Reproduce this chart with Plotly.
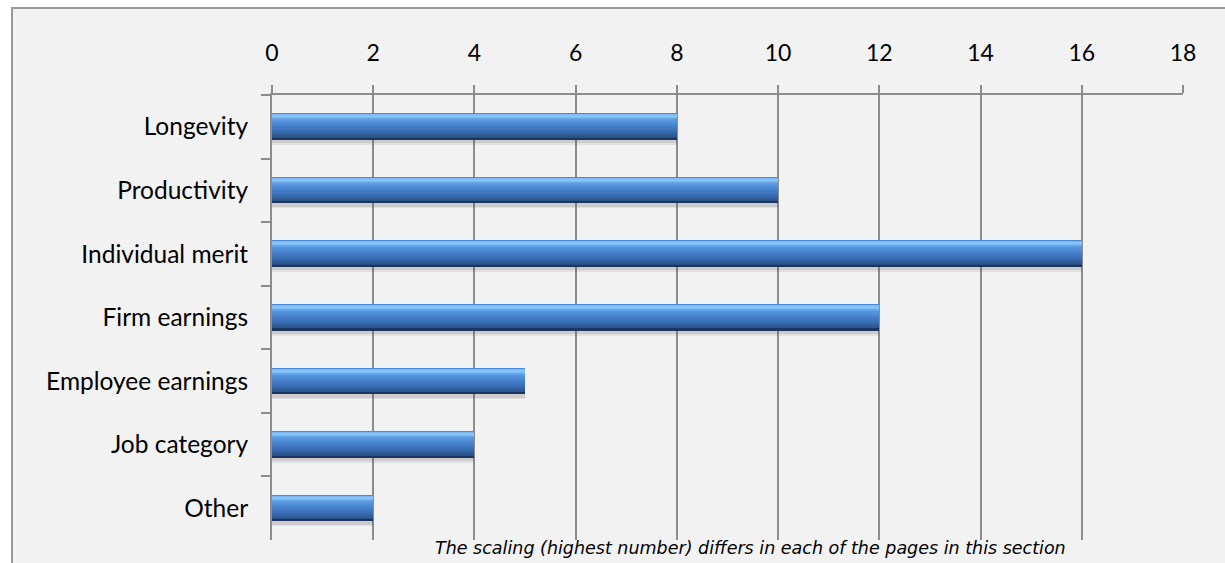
import plotly.graph_objects as go

# Survey answers: basis used for salary increases
categories = ["Longevity", "Productivity", "Individual merit", "Firm earnings",
              "Employee earnings", "Job category", "Other"]
counts = [8, 10, 16, 12, 5, 4, 2]
x_ticks = [0, 2, 4, 6, 8, 10, 12, 14, 16, 18]
footnote = "The scaling (highest number) differs in each of the pages in this section"

# Plot area geometry (pixels)
W, H = 1225, 563
L, R, T, B = 272, 1183, 95, 540
pitch = (B - T) / len(categories)
bar_px = 26

# Colour stops (row within the bar, colour) for the glossy vertical gradient
stops = [
    (0, (77, 138, 214)),
    (1, (125, 186, 245)),
    (3, (138, 198, 250)),
    (6, (93, 155, 227)),
    (12, (70, 130, 206)),
    (19, (55, 104, 172)),
    (24, (40, 78, 132)),
    (25, (26, 54, 96)),
]


def row_colour(r):
    for (r0, c0), (r1, c1) in zip(stops, stops[1:]):
        if r0 <= r <= r1:
            f = (r - r0) / (r1 - r0) if r1 > r0 else 0
            c = [round(a + (b - a) * f) for a, b in zip(c0, c1)]
            return "rgb({},{},{})".format(*c)
    return "rgb({},{},{})".format(*stops[-1][1])


fig = go.Figure()

# soft drop shadow under each bar
for dy, alpha in [(5, 0.10), (3.5, 0.14)]:
    fig.add_trace(go.Bar(
        y=categories, x=counts, orientation="h",
        width=bar_px / pitch,
        offset=(dy - bar_px / 2) / pitch,
        marker=dict(color=f"rgba(80,80,80,{alpha})", line=dict(width=0)),
        hoverinfo="skip", showlegend=False,
    ))

# one thin slice per pixel row, slightly overlapping to avoid seams
for r in range(bar_px):
    fig.add_trace(go.Bar(
        y=categories, x=counts, orientation="h",
        width=1.6 / pitch,
        offset=(r - bar_px / 2) / pitch if r < bar_px - 1 else (r - 0.6 - bar_px / 2) / pitch,
        marker=dict(color=row_colour(r), line=dict(width=0)),
        hoverinfo="skip", showlegend=False,
    ))

pw, ph = R - L, B - T


def px(xp):
    return (xp - L) / pw


def py(yp):
    return (B - yp) / ph


grey = "#8c8c8c"
fig.update_layout(
    width=W, height=H,
    margin=dict(l=L, r=W - R, t=T, b=H - B, pad=0),
    paper_bgcolor="white",
    plot_bgcolor="rgba(0,0,0,0)",
    barmode="overlay",
    bargap=0,
    font=dict(family="Lato", size=24, color="#000000"),
    shapes=[
        dict(type="rect", xref="paper", yref="paper", layer="below",
             x0=px(12), x1=px(W + 5), y0=py(8), y1=py(H + 5),
             fillcolor="#f2f2f2", line=dict(width=0)),
        dict(type="path", xref="paper", yref="paper", layer="above",
             path=f"M {px(12)},{py(H + 5)} L {px(12)},{py(8)} L {px(W + 5)},{py(8)}",
             line=dict(color="#9a9a9a", width=2)),
    ],
    annotations=[
        dict(text=footnote, xref="paper", yref="paper",
             x=px(750), y=py(548), xanchor="center", yanchor="middle",
             showarrow=False,
             font=dict(family="DejaVu Sans", size=17.5, color="#000000", style="italic")),
    ],
)

fig.update_xaxes(
    side="top", range=[0, 18], tickvals=x_ticks,
    ticks="outside", ticklen=8, tickwidth=2, tickcolor=grey,
    ticklabelstandoff=15,
    showgrid=True, gridcolor=grey, gridwidth=2,
    showline=True, linecolor=grey, linewidth=2,
    zeroline=False, tickfont=dict(size=23),
)
fig.update_yaxes(
    type="category", autorange="reversed",
    tickson="boundaries", ticks="outside", ticklen=9, tickwidth=2, tickcolor=grey,
    ticklabelstandoff=17,
    showgrid=False, showline=True, linecolor=grey, linewidth=2,
    zeroline=False, tickfont=dict(size=24.5),
)

fig.write_html("out.html")
